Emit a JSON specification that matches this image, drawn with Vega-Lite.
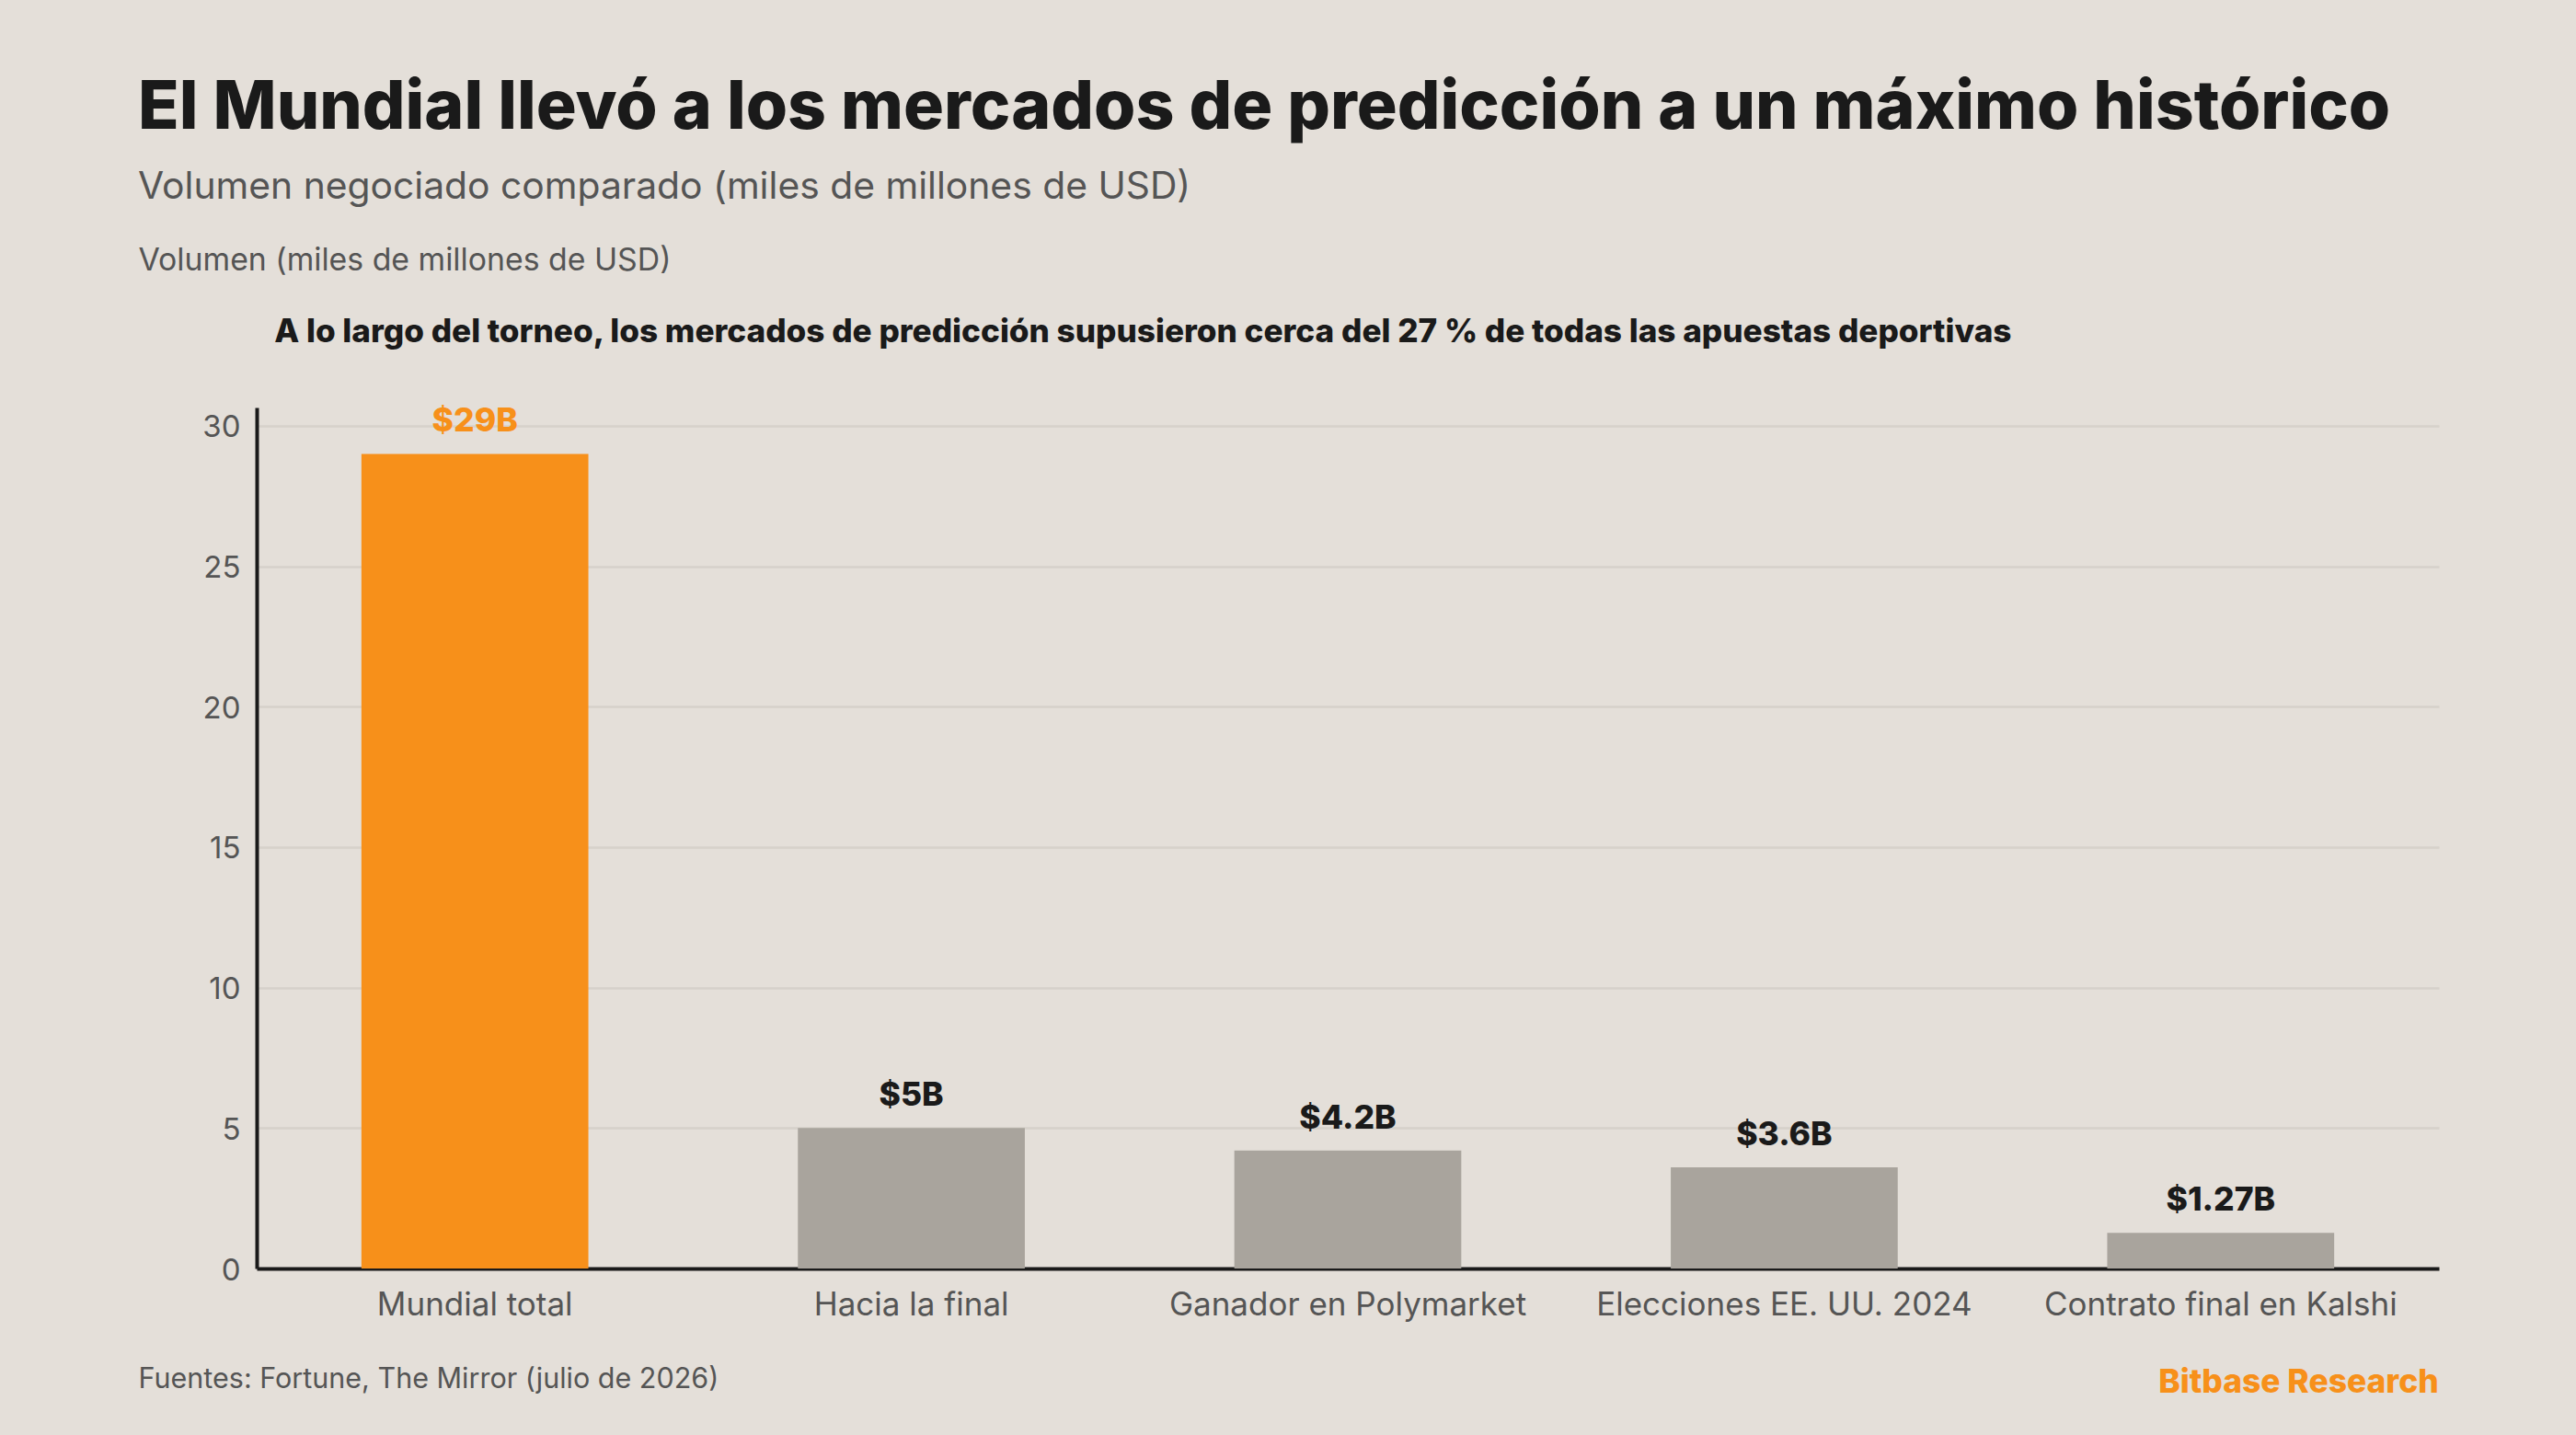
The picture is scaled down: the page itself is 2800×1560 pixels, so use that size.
{
  "$schema": "https://vega.github.io/schema/vega-lite/v6.json",
  "width": 2372,
  "height": 936,
  "autosize": {"type": "none"},
  "padding": {"left": 279, "top": 443, "right": 149, "bottom": 181},
  "background": "#E4DFD9",
  "config": {"view": {"stroke": null}, "font": "Inter"},
  "title": {
    "text": "El Mundial llevó a los mercados de predicción a un máximo histórico",
    "subtitle": "Volumen negociado comparado (miles de millones de USD)",
    "anchor": "start",
    "frame": "bounds",
    "font": "Inter",
    "fontSize": 73.3,
    "fontWeight": 800,
    "color": "#1A1A1A",
    "subtitleFont": "Inter",
    "subtitleFontSize": 40.8,
    "subtitleFontWeight": 400,
    "subtitleColor": "#555555",
    "subtitlePadding": 29,
    "dx": 0,
    "offset": 41
  },
  "data": {
    "values": [
      {"category": "Mundial total", "volume": 29, "label": "$29B", "highlight": "yes"},
      {"category": "Hacia la final", "volume": 5, "label": "$5B", "highlight": "no"},
      {"category": "Ganador en Polymarket", "volume": 4.2, "label": "$4.2B", "highlight": "no"},
      {"category": "Elecciones EE. UU. 2024", "volume": 3.6, "label": "$3.6B", "highlight": "no"},
      {"category": "Contrato final en Kalshi", "volume": 1.27, "label": "$1.27B", "highlight": "no"}
    ]
  },
  "encoding": {
    "x": {
      "field": "category",
      "type": "nominal",
      "sort": null,
      "scale": {"paddingInner": 0.48, "paddingOuter": 0.24},
      "axis": {
        "title": "Fuentes: Fortune, The Mirror (julio de 2026)",
        "titleFont": "Inter",
        "titleFontSize": 30.5,
        "titleFontWeight": 400,
        "titleColor": "#555555",
        "titleAnchor": "start",
        "titleAlign": "left",
        "titleX": -129,
        "titleY": 105,
        "labelAngle": 0,
        "labelLimit": 0,
        "labelFont": "Inter",
        "labelFontSize": 35,
        "labelColor": "#555555",
        "labelPadding": 22,
        "ticks": false,
        "domainColor": "#1A1A1A",
        "domainWidth": 4
      }
    }
  },
  "layer": [
    {
      "mark": {"type": "bar"},
      "encoding": {
        "y": {
          "field": "volume",
          "type": "quantitative",
          "scale": {"domain": [0, 30.65], "nice": false},
          "axis": {
            "title": "Volumen (miles de millones de USD)",
            "titleFont": "Inter",
            "titleFontSize": 33.8,
            "titleFontWeight": 400,
            "titleColor": "#555555",
            "titleAngle": 0,
            "titleAlign": "left",
            "titleBaseline": "middle",
            "titleX": -129,
            "titleY": -160,
            "values": [0, 5, 10, 15, 20, 25, 30],
            "labelFont": "Inter",
            "labelFontSize": 33,
            "labelColor": "#555555",
            "labelPadding": 18,
            "labelOffset": 2,
            "ticks": false,
            "domainColor": "#1A1A1A",
            "domainWidth": 4,
            "grid": true,
            "gridColor": "#D6D1CA",
            "gridWidth": 2.5
          }
        },
        "color": {
          "field": "highlight",
          "type": "nominal",
          "scale": {"domain": ["yes", "no"], "range": ["#F7901A", "#A9A49D"]},
          "legend": null
        }
      }
    },
    {
      "mark": {"type": "text", "baseline": "bottom", "dy": -17, "font": "Inter", "fontSize": 35.5, "fontWeight": 800},
      "encoding": {
        "y": {"field": "volume", "type": "quantitative"},
        "text": {"field": "label"},
        "color": {
          "field": "highlight",
          "type": "nominal",
          "scale": {"domain": ["yes", "no"], "range": ["#F7901A", "#1A1A1A"]},
          "legend": null
        }
      }
    },
    {
      "data": {"values": [{"category": "Mundial total", "volume": 33.35, "note": "A lo largo del torneo, los mercados de predicción supusieron cerca del 27 % de todas las apuestas deportivas"}]},
      "mark": {"type": "text", "align": "left", "dx": -218, "font": "Inter", "fontSize": 35.15, "fontWeight": 800, "color": "#1A1A1A"},
      "encoding": {
        "y": {"field": "volume", "type": "quantitative"},
        "text": {"field": "note"}
      }
    },
    {
      "data": {"values": [{"category": "Contrato final en Kalshi", "volume": -4.07, "note": "Bitbase Research"}]},
      "mark": {"type": "text", "align": "right", "dx": 237, "font": "Inter", "fontSize": 35.4, "fontWeight": 800, "color": "#F7901A"},
      "encoding": {
        "y": {"field": "volume", "type": "quantitative"},
        "text": {"field": "note"}
      }
    }
  ],
  "resolve": {"scale": {"color": "independent"}}
}
